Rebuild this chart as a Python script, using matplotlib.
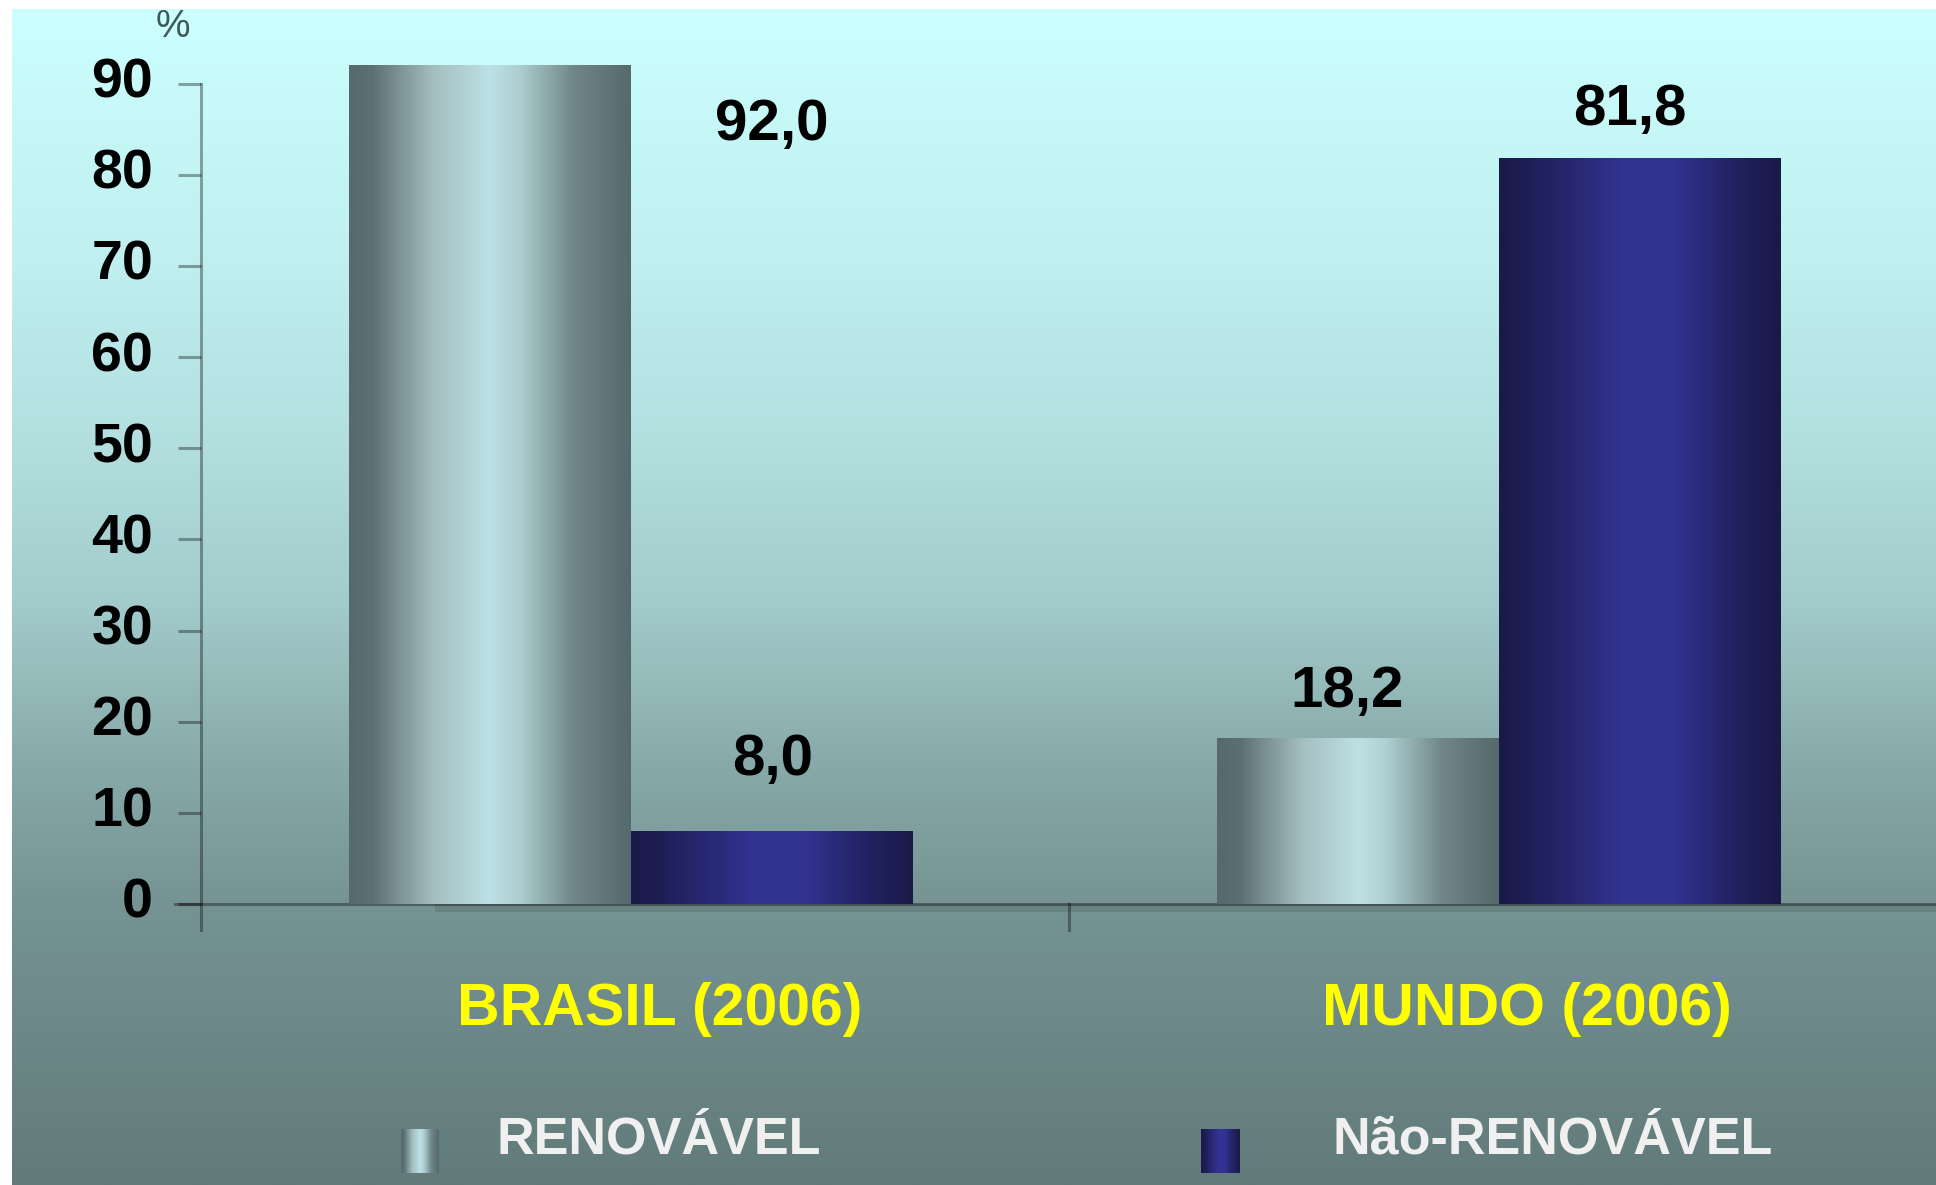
import numpy as np
import matplotlib
matplotlib.use('Agg')
import matplotlib.pyplot as plt
import matplotlib.transforms as mtransforms

plt.rcParams['font.family'] = ['Liberation Sans', 'DejaVu Sans']

# data
categorias = ['BRASIL (2006)', 'MUNDO (2006)']
renovavel = [92.0, 18.2]
nao_renovavel = [8.0, 81.8]
serie_nomes = ['RENOVÁVEL', 'Não-RENOVÁVEL']
yticks = [0, 10, 20, 30, 40, 50, 60, 70, 80, 90]

W, H = 1936, 1185
fig = plt.figure(figsize=(W / 100, H / 100), dpi=100)
fig.patch.set_facecolor('white')

# background axes in pixel coords
bg = fig.add_axes([0, 0, 1, 1], zorder=0)
bg.set_xlim(0, W)
bg.set_ylim(H, 0)
bg.axis('off')

ys = np.linspace(9, H, 400)
stops_y = [9, 250, 450, 600, 750, 900, 1185]
stops_c = np.array([(204, 255, 255), (192, 240, 240), (178, 222, 222), (163, 204, 204),
                    (138, 172, 172), (118, 148, 148), (98, 122, 122)]) / 255.0
grad_bg = np.stack([np.interp(ys, stops_y, stops_c[:, k]) for k in range(3)], axis=1)
bg.imshow(grad_bg[:, None, :], extent=[12, W, H, 9], aspect='auto', interpolation='bilinear')
bg.set_xlim(0, W)
bg.set_ylim(H, 0)


def hgrad(pos, cols, n=200):
    t = np.linspace(0, 1, n)
    cols = np.array(cols) / 255.0
    return np.stack([np.interp(t, pos, cols[:, k]) for k in range(3)], axis=1)[None, :, :]


grad_ren = hgrad([0, 0.08, 0.3, 0.5, 0.6, 0.8, 1],
                 [(86, 105, 108), (92, 112, 115), (165, 190, 192), (188, 225, 229),
                  (175, 208, 210), (112, 134, 137), (86, 105, 108)])
grad_nao = hgrad([0, 0.1, 0.45, 0.62, 0.85, 1],
                 [(26, 26, 72), (30, 30, 85), (51, 51, 148), (50, 50, 145),
                  (33, 33, 95), (26, 26, 72)])

# main axes
zero_px, unit_px = 904, 9.115
ymin, ymax = -3.5, 95
bot_px = zero_px - ymin * unit_px
top_px = zero_px - ymax * unit_px
ax = fig.add_axes([201 / W, 1 - bot_px / H, (W - 201) / W, (bot_px - top_px) / H], zorder=1)
ax.set_facecolor('none')

x = np.arange(len(categorias)) + 0.5 - 0.004
w = 0.325
b1 = ax.bar(x - w / 2, renovavel, w, color='none', edgecolor='none')
b2 = ax.bar(x + w / 2, nao_renovavel, w, color='none', edgecolor='none')
for bars, g in [(b1, grad_ren), (b2, grad_nao)]:
    for r in bars:
        im = ax.imshow(g, extent=[r.get_x(), r.get_x() + r.get_width(), 0, r.get_height()],
                       aspect='auto', interpolation='bilinear', zorder=2)
        im.set_clip_path(r)

ax.set_xlim(0, 2)
ax.set_ylim(ymin, ymax)

line_c = (0, 0, 0, 0.35)
for s in ['top', 'right', 'bottom']:
    ax.spines[s].set_visible(False)
ax.spines['left'].set_bounds(-2.9, 90)
ax.spines['left'].set_color(line_c)
ax.spines['left'].set_linewidth(2.2)
ax.plot([-0.03, 2], [0, 0], color=line_c, lw=2.2, clip_on=False, zorder=1.5)
ax.axhspan(-0.9, 0, xmin=0.135, xmax=1, color=(0, 0, 0, 0.1), lw=0, zorder=1.4)
ax.plot([1, 1], [0, -2.9], color=line_c, lw=2.2, clip_on=False)

ax.set_xticks([])
ax.set_yticks(yticks)
ax.set_yticklabels([str(t) for t in yticks], fontsize=40, fontweight='bold', color='black')
ax.tick_params(axis='y', direction='out', length=16.5, width=2.2, color=line_c, pad=18)
off = mtransforms.ScaledTranslation(0, 6 / 100, fig.dpi_scale_trans)
for lab in ax.get_yticklabels():
    lab.set_transform(lab.get_transform() + off)

# value labels (Brasil renovavel label sits over the navy bar slot)
lbl_x = [x[0] + w / 2, x[0] + w / 2, x[1] - w / 2 - 0.012, x[1] + w / 2 - 0.012]
lbl_y = [83.8, 14.2, 21.6, 85.5]
vals = [renovavel[0], nao_renovavel[0], renovavel[1], nao_renovavel[1]]
for xx, yy, v in zip(lbl_x, lbl_y, vals):
    ax.text(xx, yy, f'{v:.1f}'.replace('.', ','), ha='center', va='baseline',
            fontsize=42, fontweight='bold', color='black')

# category labels
for xx, c in zip(np.arange(len(categorias)) + 0.529, categorias):
    ax.text(xx, -13.27, c, ha='center', va='baseline', fontsize=42.5,
            fontweight='bold', color='#ffff00', clip_on=False)

# % unit
bg.text(173, 37, '%', ha='center', va='baseline', fontsize=28, color='#3f5858')

# legend
for (sx0, sx1, tx), g, nome in zip([(401, 439, 496), (1201, 1240, 1332)],
                                   [grad_ren, grad_nao], serie_nomes):
    bg.imshow(g, extent=[sx0, sx1, 1173, 1129], aspect='auto', interpolation='bilinear')
    bg.text(tx, 1154, nome, ha='left', va='baseline', fontsize=37.5,
            fontweight='bold', color='#f0f0f0')
bg.set_xlim(0, W)
bg.set_ylim(H, 0)

fig.savefig('out.png', dpi=100)
